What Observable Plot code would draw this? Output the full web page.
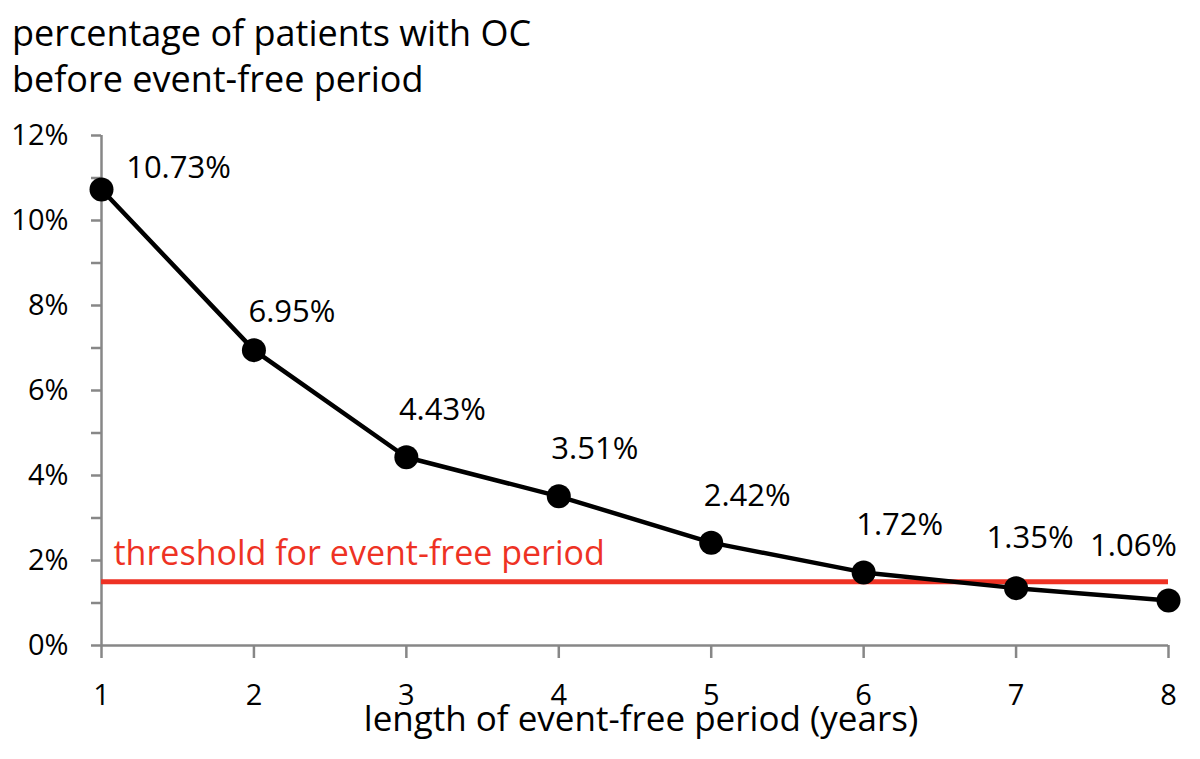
<!DOCTYPE html>
<html><head><meta charset="utf-8">
<script src="https://cdn.jsdelivr.net/npm/d3@7"></script>
<script src="https://cdn.jsdelivr.net/npm/@observablehq/plot@0.6"></script>
<style>
body{margin:0;background:#fff;font-family:"Open Sans",sans-serif;}
#title{height:92px;padding:10px 0 0 12px;font-size:36px;line-height:46px;color:#000;white-space:nowrap;}
#chart svg{display:block;overflow:visible;}
</style></head><body>
<div id="title">percentage of patients with OC<br>before event-free period</div>
<div id="chart"></div>
<script>
const years = [1, 2, 3, 4, 5, 6, 7, 8];
const percentages = [10.73, 6.95, 4.43, 3.51, 2.42, 1.72, 1.35, 1.06];
const pointLabels = ["10.73%", "6.95%", "4.43%", "3.51%", "2.42%", "1.72%", "1.35%", "1.06%"];
const threshold = 1.5;
const thresholdLabel = "threshold for event-free period";
const yTicks = [0, 1, 2, 3, 4, 5, 6, 7, 8, 9, 10, 11, 12];
const yTickLabels = ["0%", "", "2%", "", "4%", "", "6%", "", "8%", "", "10%", "", "12%"];
const xTitle = "length of event-free period (years)";

const data = years.map((x, i) => ({x, y: percentages[i], label: pointLabels[i], i}));
const grey = "#878787";
const red = "#EE3224";
const lbl = {x: "x", y: "y", text: "label", fill: "black", fontSize: 31};

const chart = Plot.plot({
  width: 1200, height: 657,
  marginTop: 33, marginBottom: 114, marginLeft: 101, marginRight: 32,
  style: {fontFamily: "Open Sans", fontSize: "29px", background: "white", color: "black"},
  x: {domain: [1, 8]},
  y: {domain: [0, 12]},
  marks: [
    Plot.axisY({ticks: yTicks, tickSize: 10, tickPadding: 23, stroke: grey, strokeWidth: 2.5, fill: "black", label: null,
      tickFormat: d => yTickLabels[yTicks.indexOf(d)]}),
    Plot.axisX({ticks: years, tickSize: 13, tickPadding: 26, stroke: grey, strokeWidth: 2.5, fill: "black", label: null,
      tickFormat: d => String(d)}),
    Plot.ruleX([1], {stroke: grey, strokeWidth: 2.5}),
    Plot.ruleY([0], {stroke: grey, strokeWidth: 2.5}),
    Plot.ruleY([threshold], {x1: 1, x2: 8, stroke: red, strokeWidth: 5}),
    Plot.text([thresholdLabel], {x: 1, y: threshold, textAnchor: "start", dx: 12, dy: -28, fill: red, fontSize: 34}),
    Plot.line(data, {x: "x", y: "y", stroke: "black", strokeWidth: 4.5}),
    Plot.dot(data, {x: "x", y: "y", r: 12, fill: "black", stroke: "none"}),
    Plot.text(data, {...lbl, filter: d => d.i === 0, dx: 77, dy: -21}),
    Plot.text(data, {...lbl, filter: d => d.i === 1, dx: 38, dy: -38}),
    Plot.text(data, {...lbl, filter: d => d.i >= 2 && d.i <= 5, dx: 36, dy: -47}),
    Plot.text(data, {...lbl, filter: d => d.i === 6, dx: 14, dy: -50}),
    Plot.text(data, {...lbl, filter: d => d.i === 7, dx: -35, dy: -54}),
    Plot.text([xTitle], {frameAnchor: "bottom", dx: 6, dy: 85, fill: "black", fontSize: 35})
  ]
});
document.getElementById("chart").appendChild(chart);
</script>
</body></html>
